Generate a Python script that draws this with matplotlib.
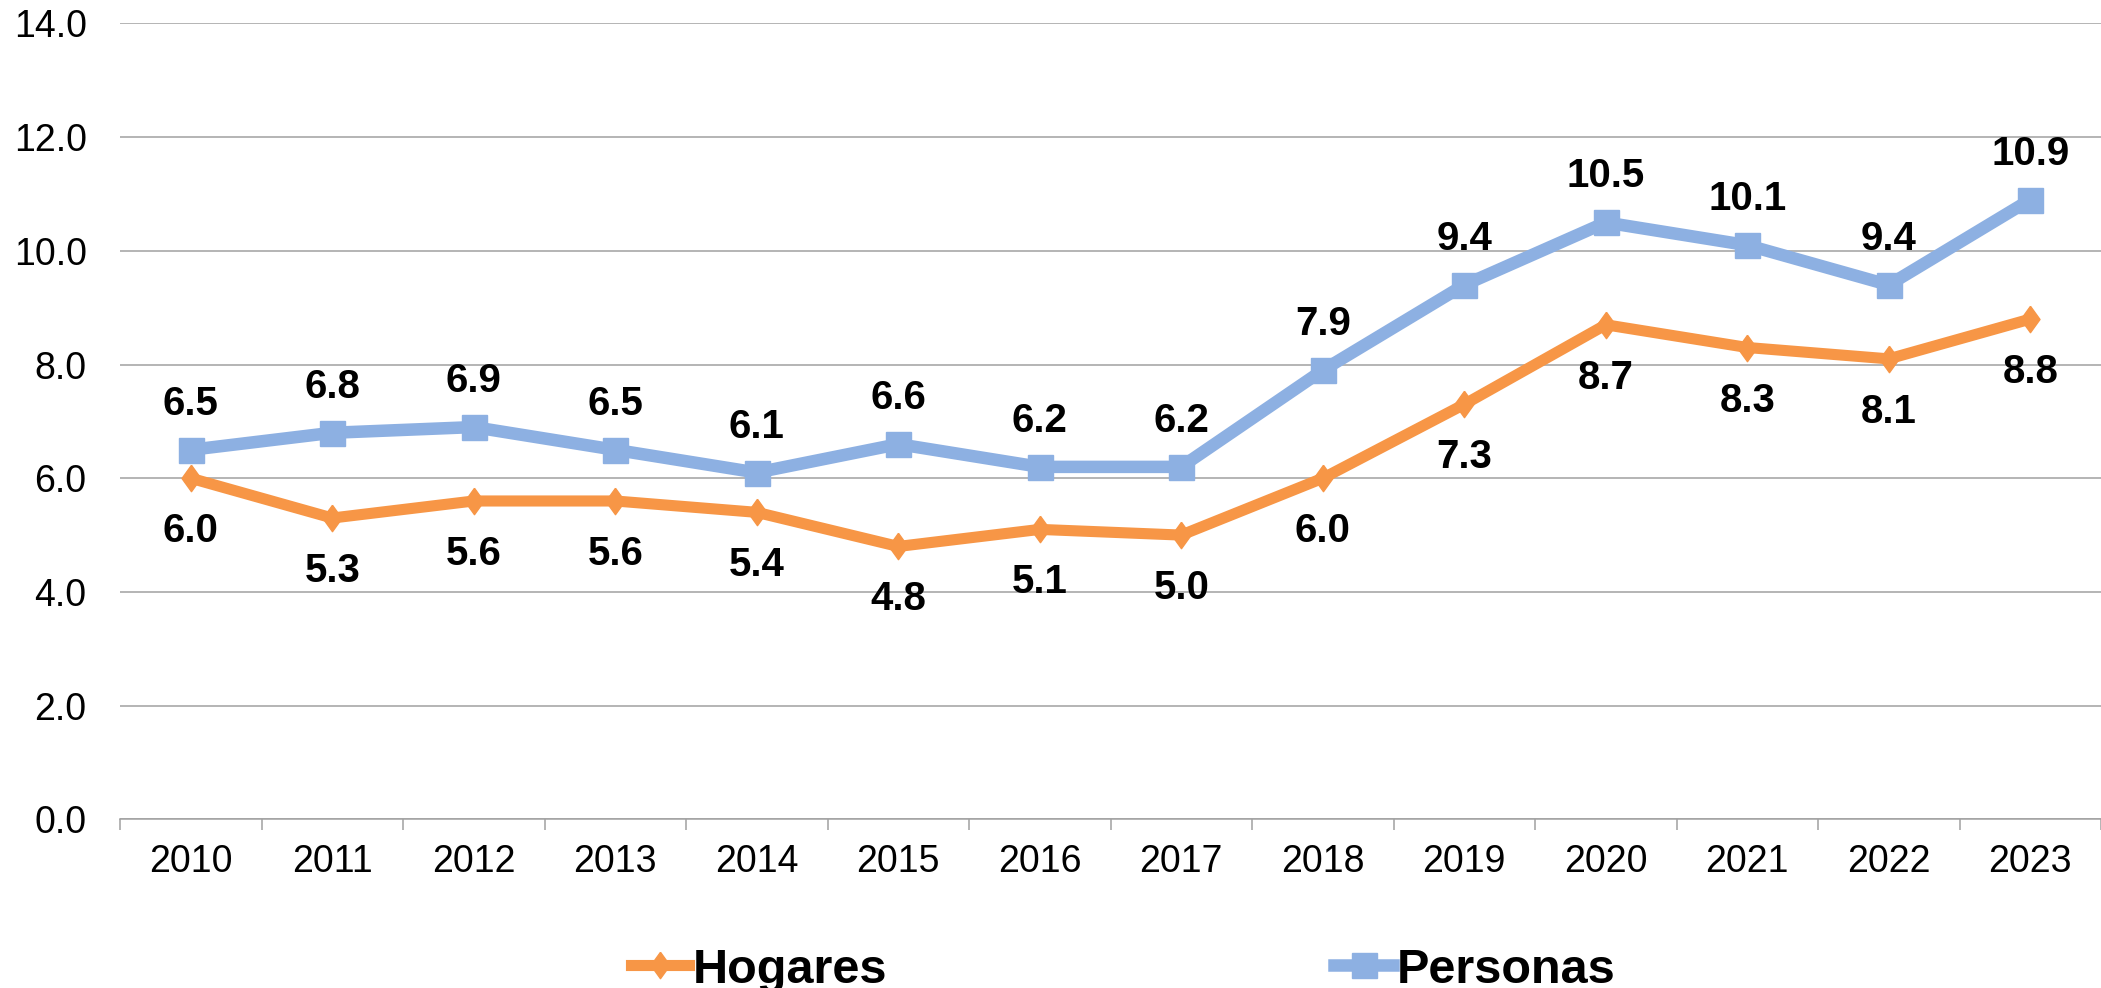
import matplotlib
matplotlib.use("Agg")
import matplotlib.pyplot as plt
import numpy as np

years = ["2010", "2011", "2012", "2013", "2014", "2015", "2016",
         "2017", "2018", "2019", "2020", "2021", "2022", "2023"]
hogares = [6.0, 5.3, 5.6, 5.6, 5.4, 4.8, 5.1, 5.0, 6.0, 7.3, 8.7, 8.3, 8.1, 8.8]
personas = [6.5, 6.8, 6.9, 6.5, 6.1, 6.6, 6.2, 6.2, 7.9, 9.4, 10.5, 10.1, 9.4, 10.9]
yticks = [0.0, 2.0, 4.0, 6.0, 8.0, 10.0, 12.0, 14.0]

orange = "#F79646"
blue = "#8DB0E2"

plt.rcParams['font.family'] = ['Liberation Sans', 'DejaVu Sans']

fig = plt.figure(figsize=(21.01, 9.88), dpi=100)
ax = fig.add_axes([120/2101, 1 - 819.3/988, 1 - 120/2101, (819.3 - 23.5)/988])

x = np.arange(len(years))
diamond = [(0, 1), (0.72, 0), (0, -1), (-0.72, 0), (0, 1)]

ax.plot(x, hogares, color=orange, lw=8, marker=diamond, ms=19,
        label="Hogares", zorder=3, solid_joinstyle='miter')
ax.plot(x, personas, color=blue, lw=9, marker='s', ms=18,
        label="Personas", zorder=3, solid_joinstyle='miter')

for xi, v in zip(x, personas):
    ax.annotate(f"{v:.1f}", (xi, v), xytext=(0, 46), textcoords='offset pixels',
                ha='center', va='center', fontsize=29, fontweight='bold', color='black')
for xi, v in zip(x, hogares):
    ax.annotate(f"{v:.1f}", (xi, v), xytext=(0, -53), textcoords='offset pixels',
                ha='center', va='center', fontsize=29, fontweight='bold', color='black')

ax.set_xlim(-0.5, len(years) - 0.5)
ax.set_ylim(0, 14)
ax.set_yticks(yticks)
ax.set_yticklabels([f"{t:.1f}" for t in yticks])
ax.set_xticks(x)
ax.set_xticklabels(years)
ax.set_xticks(np.arange(-0.5, len(years), 1.0), minor=True)

ax.tick_params(axis='y', length=0, pad=24, labelsize=27)
ax.tick_params(axis='x', which='major', length=0, pad=18, labelsize=27)
ax.tick_params(axis='x', which='minor', length=8, width=1.1, color='#A0A0A0')

ax.grid(axis='y', color='#A0A0A0', lw=1.1)
ax.set_axisbelow(True)
for s in ['left', 'right', 'top']:
    ax.spines[s].set_visible(False)
ax.spines['bottom'].set_color('#A0A0A0')
ax.spines['bottom'].set_linewidth(1.1)

leg = fig.legend(loc='center', bbox_to_anchor=(1123/2101, 1 - 970/988), ncol=2,
                 frameon=False, prop={'weight': 'bold', 'size': 35},
                 handlelength=1.2, handletextpad=0.08, columnspacing=9.2,
                 borderaxespad=0)

fig.savefig("out.png", dpi=100)
